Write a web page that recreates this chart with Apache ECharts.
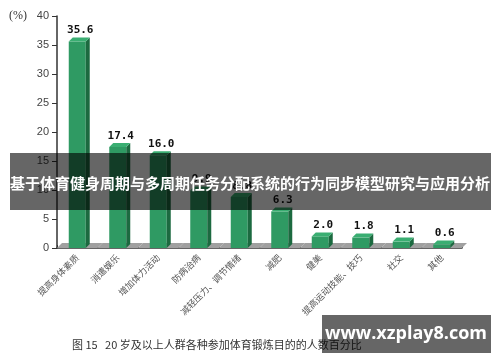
<!DOCTYPE html>
<html>
<head>
<meta charset="utf-8">
<script src="https://cdn.jsdelivr.net/npm/echarts@6/dist/echarts.min.js"></script>
<style>html,body{margin:0;padding:0;background:#fff}#c{width:500px;height:362px}</style>
</head>
<body>
<div id="c"></div>
<script>
var categories = ['提高身体素质','消遣娱乐','增加体力活动','防病治病','减轻压力、调节情绪','减肥','健美','提高运动技能、技巧','社交','其他'];
var values = [35.6, 17.4, 16.0, 9.9, 8.8, 6.3, 2.0, 1.8, 1.1, 0.6];
var yTicks = [0, 5, 10, 15, 20, 25, 30, 35, 40];
var titleText = '基于体育健身周期与多周期任务分配系统的行为同步模型研究与应用分析';
var captionText = '图 15   20 岁及以上人群各种参加体育锻炼目的的人数百分比';
var watermarkText = 'www.xzplay8.com';

var chart = echarts.init(document.getElementById('c'), null, {renderer: 'canvas'});
var W = 17, DX = 4, DY = -4;

function renderItem(params, api) {
  var idx = api.value(0), val = api.value(1);
  var top = api.coord([idx, val]);
  var base = api.coord([idx, 0]);
  var bw = api.size([1, 0])[0];
  var cx = top[0], ty = top[1], by = base[1];
  var x = cx - 8.5;
  var fl = cx - bw / 2, fr = cx + bw / 2;
  return {
    type: 'group',
    children: [
      {type: 'polygon', shape: {points: [[fl, by], [fl + 5, by - 5], [fr + 5, by - 5], [fr, by]]}, style: {fill: '#a0a0a0'}},
      {type: 'rect', shape: {x: x, y: ty, width: W, height: by - ty}, style: {fill: '#2f9a63'}},
      {type: 'polygon', shape: {points: [[x + W, ty], [x + W + DX, ty + DY], [x + W + DX, by + DY], [x + W, by]]}, style: {fill: '#1c6a40'}},
      {type: 'polygon', shape: {points: [[x, ty], [x + DX, ty + DY], [x + W + DX, ty + DY], [x + W, ty]]}, style: {fill: '#3aae72'}},
      {type: 'text', style: {x: cx + 3, y: ty - 11, text: val.toFixed(1), fill: '#111', font: 'bold 11px "DejaVu Sans Mono"', align: 'center', verticalAlign: 'middle'}}
    ]
  };
}

chart.setOption({
  animation: false,
  grid: {left: 57, right: 38, top: 16, bottom: 114},
  xAxis: {
    type: 'category', data: categories,
    axisLine: {lineStyle: {color: '#333', width: 1.5}},
    axisTick: {show: true, length: 3, inside: true, lineStyle: {color: '#333'}},
    axisLabel: {interval: 0, rotate: 45, fontSize: 9, color: '#555', margin: 8, fontFamily: 'Noto Sans CJK SC'}
  },
  yAxis: {
    type: 'value', min: 0, max: 40, interval: 5,
    axisLine: {show: true, lineStyle: {color: '#333', width: 1.5}},
    axisTick: {show: true, length: 5, lineStyle: {color: '#333'}},
    axisLabel: {color: '#444', fontSize: 11, margin: 8, fontFamily: 'Liberation Sans',
      formatter: function (v) { return yTicks.indexOf(v) >= 0 ? String(v) : ''; }},
    splitLine: {show: false}
  },
  series: [{
    type: 'custom', renderItem: renderItem,
    data: values.map(function (v, i) { return [i, v]; }),
    encode: {x: 0, y: 1}, clip: false
  }],
  graphic: [
    {type: 'text', left: 9, top: 10, style: {text: '(%)', fill: '#333', font: '12px "Liberation Serif"'}},
    {type: 'text', left: 72, top: 339, style: {text: captionText, fill: '#333', font: '11px "Noto Sans CJK SC"'}},
    {type: 'rect', shape: {x: 10, y: 153, width: 481, height: 57}, style: {fill: 'rgba(0,0,0,0.6)'}, z: 100},
    {type: 'text', x: 250, y: 183, style: {text: titleText, fill: '#fff', font: 'bold 15px "Noto Sans CJK SC"', align: 'center', verticalAlign: 'middle'}, z: 101},
    {type: 'rect', shape: {x: 322, y: 315, width: 169, height: 38}, style: {fill: 'rgba(0,0,0,0.6)'}, z: 100},
    {type: 'text', x: 406, y: 334, style: {text: watermarkText, fill: '#fff', font: 'bold 18px "Open Sans"', align: 'center', verticalAlign: 'middle'}, z: 101}
  ]
});
</script>
</body>
</html>
